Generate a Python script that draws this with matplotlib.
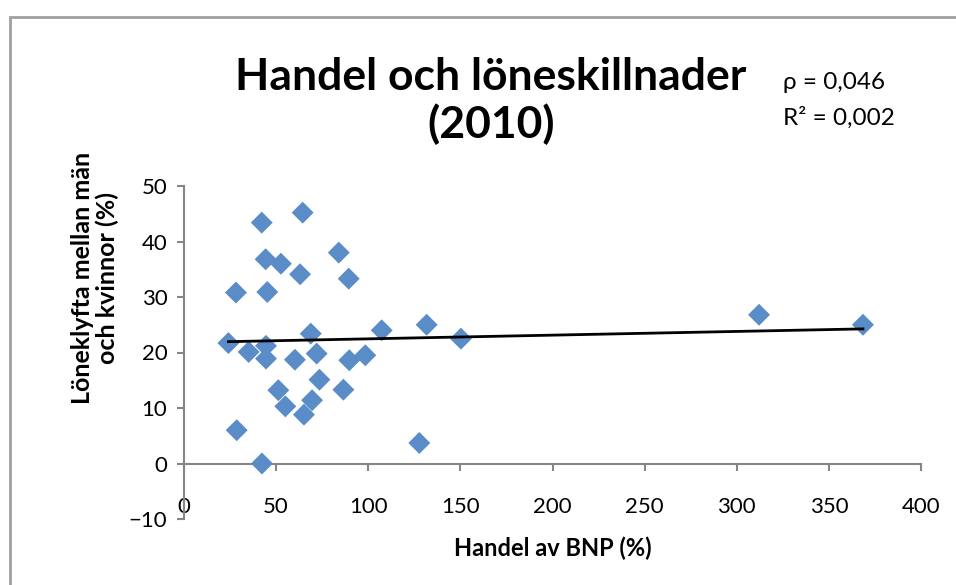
import matplotlib.pyplot as plt
import numpy as np
from matplotlib.patches import Rectangle

# handel (% av BNP) och löneklyfta (%) per land
handel = [42.2, 64.4, 44.3, 52.6, 63.0, 84.0, 89.4, 28.2, 45.2, 24.1,
          35.1, 44.5, 44.5, 68.8, 60.2, 72.0, 89.7, 98.4, 107.3, 131.7,
          150.3, 73.5, 51.2, 86.5, 55.0, 69.5, 65.1, 28.6, 127.7, 42.3,
          312.1, 368.5]
loneklyfta = [43.4, 45.2, 36.8, 36.0, 34.1, 38.0, 33.3, 30.8, 30.9, 21.7,
              20.1, 21.2, 18.9, 23.4, 18.7, 19.8, 18.6, 19.5, 24.0, 25.0,
              22.5, 15.1, 13.2, 13.3, 10.3, 11.4, 8.8, 6.0, 3.7, 0.0,
              26.8, 25.0]

xticks = [0, 50, 100, 150, 200, 250, 300, 350, 400]
yticks = [-10, 0, 10, 20, 30, 40, 50]

plt.rcParams['font.family'] = ['Lato', 'DejaVu Sans']
grey = '#868686'

fig = plt.figure(figsize=(9.56, 5.85), dpi=100)

# ram runt diagrammet (Excel-stil)
fig.patches.append(Rectangle((10/956, -0.1), 1.2, 1 - 17/585 + 0.1,
                             transform=fig.transFigure, fill=False,
                             edgecolor='#a0a0a0', linewidth=2))

ax = fig.add_axes([184/956, 1 - 519/585, 737/956, 333/585])
ax.scatter(handel, loneklyfta, marker='D', s=125, color='#5A8CC8',
           edgecolors='none', zorder=3)

# linjär trendlinje
k, m = np.polyfit(handel, loneklyfta, 1)
xl = np.array([min(handel), max(handel)])
ax.plot(xl, k * xl + m, color='black', linewidth=2, zorder=4)

ax.set_xlim(0, 400)
ax.set_ylim(-10, 50)
ax.set_xticks(xticks)
ax.set_yticks(yticks)

ax.spines['top'].set_visible(False)
ax.spines['right'].set_visible(False)
ax.spines['bottom'].set_position(('data', 0))
for s in ['left', 'bottom']:
    ax.spines[s].set_color(grey)
    ax.spines[s].set_linewidth(1.5)
ax.tick_params(axis='both', direction='out', length=5, width=1.5,
               color=grey, labelsize=16, labelcolor='black')
ax.tick_params(axis='x', pad=19)
ax.tick_params(axis='y', pad=7)

ax.set_xlabel('Handel av BNP (%)', fontsize=17, fontweight='bold', va='center')
ax.xaxis.set_label_coords(0.5007, -0.087)
ax.set_ylabel('Löneklyfta mellan män\noch kvinnor (%)', fontsize=18,
              fontweight='bold', linespacing=1.05, va='center', ha='center')
ax.yaxis.set_label_coords(-0.1208, 0.724)

fig.text(491/956, 1 - 101/585, 'Handel och löneskillnader\n(2010)',
         ha='center', va='center', fontsize=32, fontweight='bold',
         linespacing=1.2)
fig.text(783/956, 1 - 83/585, 'ρ = 0,046', ha='left', va='center', fontsize=17.5)
fig.text(783/956, 1 - 118/585, 'R² = 0,002', ha='left', va='center', fontsize=17.5)

plt.savefig('out.png', dpi=100)
